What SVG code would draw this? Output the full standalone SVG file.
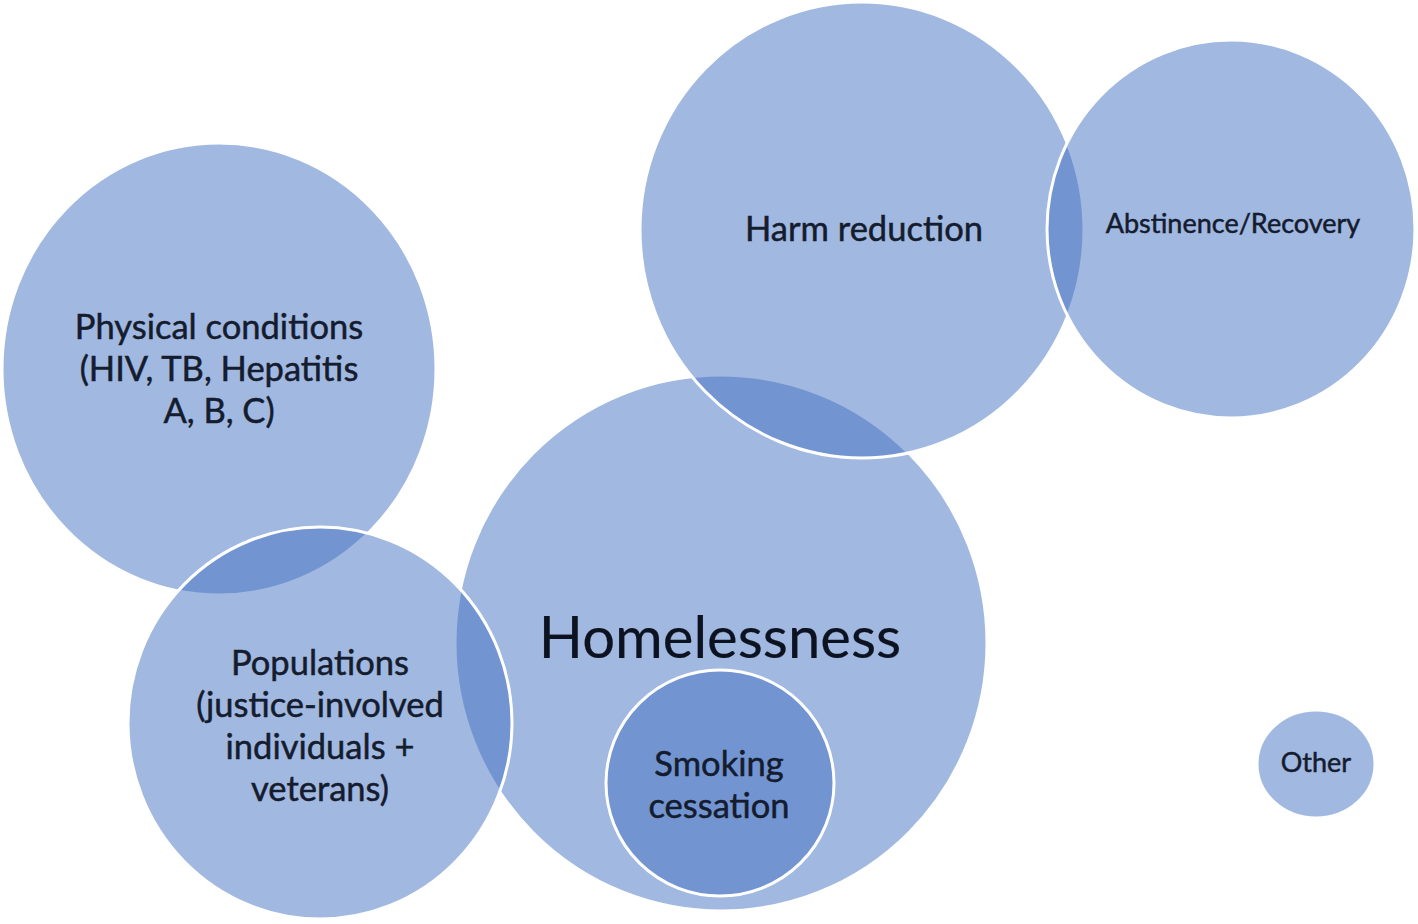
<svg xmlns="http://www.w3.org/2000/svg" width="1418" height="924" viewBox="0 0 1418 924">
<style>
.c{fill:#4472C4;fill-opacity:0.5;stroke:#ffffff;stroke-width:3}
.t{font-family:Lato,"Open Sans","Liberation Sans",sans-serif;fill:#141c2e;stroke:#141c2e;stroke-width:0.5;text-anchor:middle;font-size:34.5px}
.h{font-size:58px;stroke-width:0.2;fill:#0c1220}
.s{font-size:27px}
</style>
<rect width="1418" height="924" fill="#ffffff"/>
<g id="homelessness">
<ellipse class="c" cx="721" cy="643" rx="266" ry="268"/>
<text class="t h" x="720" y="658">Homelessness</text>
</g>
<g id="physical">
<ellipse class="c" cx="219" cy="369" rx="217" ry="226"/>
<text class="t" x="219" y="339">Physical conditions</text>
<text class="t" x="219" y="381">(HIV, TB, Hepatitis</text>
<text class="t" x="219" y="423">A, B, C)</text>
</g>
<g id="populations">
<ellipse class="c" cx="320" cy="723" rx="192" ry="196"/>
<text class="t" x="320" y="675">Populations</text>
<text class="t" x="320" y="717">(justice-involved</text>
<text class="t" x="320" y="759">individuals +</text>
<text class="t" x="320" y="801">veterans)</text>
</g>
<g id="harm">
<ellipse class="c" cx="862" cy="230" rx="222" ry="228"/>
<text class="t" x="864" y="241">Harm reduction</text>
</g>
<g id="abstinence">
<ellipse class="c" cx="1231" cy="229" rx="184" ry="189"/>
<text class="t s" x="1233" y="233">Abstinence/Recovery</text>
</g>
<g id="smoking">
<ellipse class="c" cx="720" cy="783" rx="114" ry="113"/>
<text class="t" x="719" y="776">Smoking</text>
<text class="t" x="719" y="818">cessation</text>
</g>
<g id="other">
<ellipse class="c" cx="1316" cy="764" rx="59" ry="54"/>
<text class="t s" x="1316" y="772">Other</text>
</g>
<g id="connectors"></g>
</svg>
